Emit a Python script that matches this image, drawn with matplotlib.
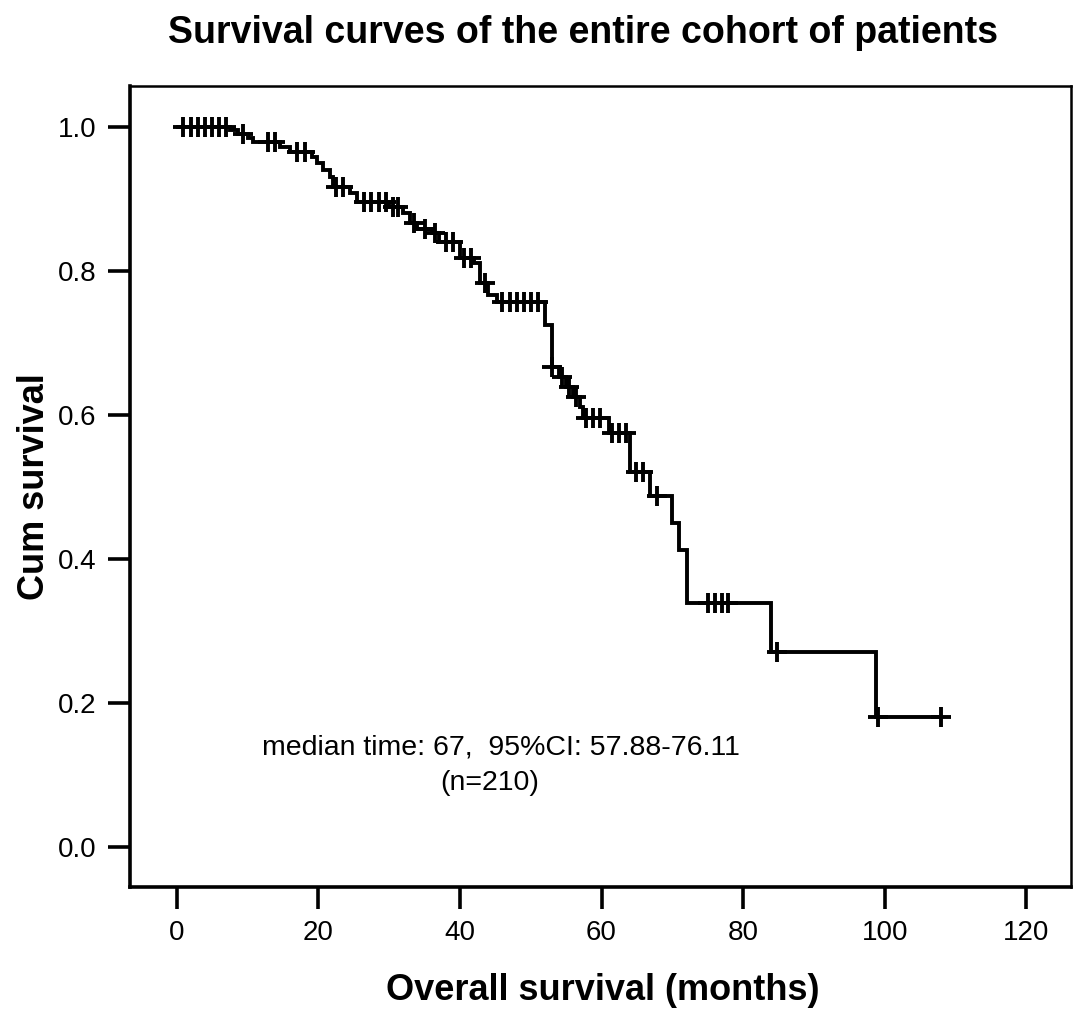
import numpy as np
import matplotlib
matplotlib.use("Agg")
import matplotlib.pyplot as plt

plt.rcParams['font.family'] = ['Liberation Sans', 'DejaVu Sans']

# Kaplan-Meier step data
event_times = [7.5, 8.7, 10.0, 10.8, 14.6, 16.0, 19.1, 19.8, 20.7, 21.7, 22.0, 24.5, 25.5,
               30.0, 32.0, 33.0, 34.0, 36.0, 37.0, 40.0, 42.0, 42.9, 44.0, 45.2,
               52.0, 53.0, 54.0, 55.0, 56.0, 57.0, 57.4, 61.0, 64.0, 66.9, 70.0,
               71.0, 72.0, 84.0, 98.8]
surv_after = [0.996, 0.990, 0.985, 0.979, 0.972, 0.965, 0.958, 0.950, 0.941, 0.931, 0.917,
              0.908, 0.896, 0.889, 0.880, 0.867, 0.859, 0.853, 0.840, 0.818, 0.811,
              0.783, 0.767, 0.757, 0.725, 0.667, 0.653, 0.639, 0.625, 0.611, 0.596,
              0.575, 0.521, 0.488, 0.450, 0.4125, 0.339, 0.271, 0.181]
censor_times = [0.9, 2.0, 3.0, 4.0, 5.0, 6.0, 7.0, 9.3, 12.9, 13.9, 17.0, 18.1,
                22.5, 23.5, 26.5, 27.5, 28.5, 29.5, 30.5, 31.3, 33.5, 35.0, 36.5,
                38.0, 39.0, 40.6, 41.5, 43.5, 46.0, 47.0, 48.0, 49.0, 50.0, 51.0,
                53.0, 54.4, 55.4, 56.4, 57.8, 58.8, 59.8, 61.5, 62.5, 63.5, 64.9,
                65.9, 67.8, 75.0, 76.0, 77.0, 77.9, 84.8, 99.0, 108.0]
start_time = 0.2
end_time = 108.0

x_ticks = [0, 20, 40, 60, 80, 100, 120]
y_ticks = [0.0, 0.2, 0.4, 0.6, 0.8, 1.0]

title = "Survival curves of the entire cohort of patients"
xlabel = "Overall survival (months)"
ylabel = "Cum survival"
note1 = "median time: 67,  95%CI: 57.88-76.11"
note2 = "(n=210)"

W, H = 1087, 1018
fig = plt.figure(figsize=(W / 100, H / 100), dpi=100)
ax = fig.add_axes([130 / W, 1 - 887 / H, (1071 - 130) / W, (887 - 86) / H])

t_steps = np.array([start_time] + event_times + [end_time])
s_steps = np.array([1.0] + surv_after + [surv_after[-1]])
ax.step(t_steps, s_steps, where='post', color='black', lw=2.8, solid_joinstyle='miter')

ev = np.array(event_times)
sv = np.array([1.0] + surv_after)
c_t = np.array(censor_times)
c_s = sv[np.searchsorted(ev, c_t, side='right')]
ax.plot(c_t, c_s, linestyle='none', marker='+', color='black', ms=14, mew=2.8)

ax.set_xlim(-6.6, 126.3)
ax.set_ylim(-0.0556, 1.057)
ax.set_xticks(x_ticks)
ax.set_xticklabels([str(v) for v in x_ticks])
ax.set_yticks(y_ticks)
ax.set_yticklabels([f"{v:.1f}" for v in y_ticks])
ax.tick_params(direction='out', length=16, width=2.6, labelsize=20, pad=8, colors='black')

for side in ['left', 'bottom']:
    ax.spines[side].set_linewidth(2.6)
for side in ['top', 'right']:
    ax.spines[side].set_linewidth(1.8)

fig.text(583 / W, 1 - 33 / H, title, ha='center', va='center', fontsize=27, fontweight='bold')
fig.text(603 / W, 1 - 990 / H, xlabel, ha='center', va='center', fontsize=26, fontweight='bold')
fig.text(35 / W, 1 - 487 / H, ylabel, ha='center', va='center', fontsize=26,
         fontweight='bold', rotation=90)

fig.text(501 / W, 1 - 747 / H, note1, ha='center', va='center', fontsize=20.5)
fig.text(490 / W, 1 - 783 / H, note2, ha='center', va='center', fontsize=20.5)

fig.savefig("out.png", dpi=100)
